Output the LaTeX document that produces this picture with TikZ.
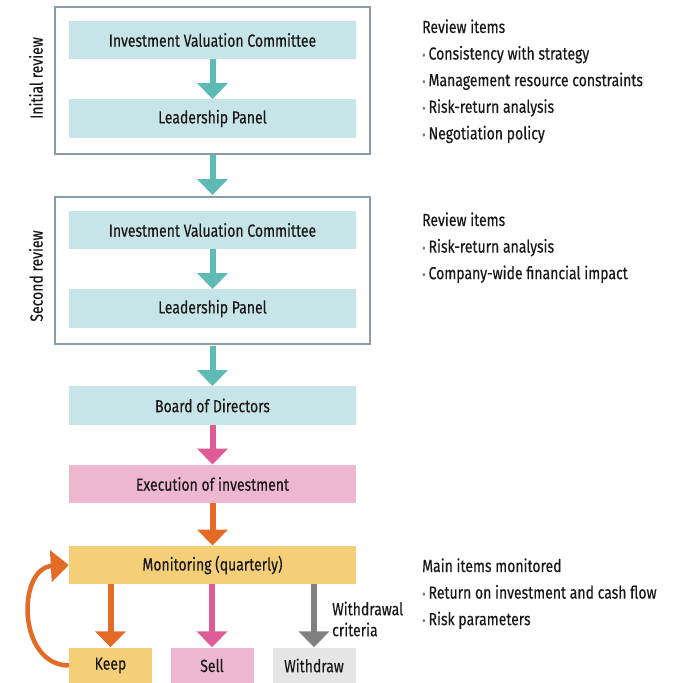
\documentclass[tikz,border=0pt]{standalone}
\usepackage{fontspec}
\setmainfont{Fira Sans}[FakeStretch=0.8, FakeBold=0.3]
\usetikzlibrary{arrows.meta}
\usetikzlibrary{positioning}
\definecolor{mteal}{rgb}{0.37, 0.73, 0.71}
\definecolor{lteal}{rgb}{0.78, 0.90, 0.91}
\definecolor{mframe}{rgb}{0.54, 0.61, 0.66}
\definecolor{mpink}{rgb}{0.87, 0.36, 0.59}
\definecolor{lpink}{rgb}{0.93, 0.72, 0.81}
\definecolor{morange}{rgb}{0.89, 0.42, 0.15}
\definecolor{lyellow}{rgb}{0.96, 0.81, 0.47}
\definecolor{mgrey}{rgb}{0.5, 0.5, 0.5}
\definecolor{lgrey}{rgb}{0.9, 0.9, 0.9}
\definecolor{mtext}{rgb}{0.1, 0.09, 0.09}
\tikzset{box/.style = {minimum width=287pt, minimum height=38.5pt, inner sep=0, text=mtext}}
\tikzset{small/.style = {minimum width=83pt, minimum height=36pt, inner sep=0, text=mtext}}
\tikzset{frm/.style = {draw=mframe, line width=2pt, minimum width=315pt, minimum height=147pt}}
\tikzset{flow/.style = {line width=6pt, -{Triangle[width=30pt, length=16pt]}}}
\tikzset{item/.style = {anchor=base west, inner sep=0, text=mtext}}
\newcommand{\blt}{\textcolor{mgrey}{\scalebox{0.75}{\textbullet}}\hspace{3pt}}

\begin{document}
\begin{tikzpicture}[x=1pt, y=-1pt, font=\fontsize{17.5}{20}\selectfont]
          \useasboundingbox (0, 0) rectangle (683, 683);
          % initial review
          \node [frm] (ini) at (212.5, 80.5) {};
          \node [box, fill=lteal] (ivc1) at (212.5, 40) {Investment Valuation Committee};
          \node [box, fill=lteal] (lp1) at (212.5, 118.5) {Leadership Panel};
          \node [rotate=90, text=mtext] (inil) at (36, 78) {Initial review};
          % second review
          \node [frm] (sec) at (212.5, 270.5) {};
          \node [box, fill=lteal] (ivc2) at (212.5, 230) {Investment Valuation Committee};
          \node [box, fill=lteal] (lp2) at (212.5, 308.5) {Leadership Panel};
          \node [rotate=90, text=mtext] (secl) at (36, 276) {Second review};

          \node [box, fill=lteal] (bod) at (212.5, 405.5) {Board of Directors};
          \node [box, fill=lpink] (exe) at (212.5, 484) {Execution of investment};
          \node [box, fill=lyellow] (mon) at (212.5, 565) {Monitoring (quarterly)};
          \node [small, fill=lyellow] (keep) at (110.5, 665.5) {Keep};
          \node [small, fill=lpink] (sell) at (212, 665.5) {Sell};
          \node [small, fill=lgrey] (wdr) at (314, 665.5) {Withdraw};
          \node [anchor=west, align=left, inner sep=0, text=mtext,
                 font=\fontsize{17.5}{21}\selectfont] (crit) at (332, 619) {Withdrawal\\criteria};

          \draw [flow, mteal] (ivc1) -- (lp1);
          \draw [flow, mteal, shorten >=1pt] (ini) -- (sec);
          \draw [flow, mteal] (ivc2) -- (lp2);
          \draw [flow, mteal, shorten <=1pt] (sec) -- (bod);
          \draw [flow, mpink] (bod) -- (exe);
          \draw [flow, morange] (exe) -- (mon);
          \draw [flow, morange] (mon.south -| keep) -- (keep);
          \draw [flow, mpink] (mon.south -| sell) -- (sell);
          \draw [flow, mgrey] (mon.south -| wdr) -- (wdr);
          \draw [morange, line width=4.5pt, -{Triangle[width=31pt, length=18pt]}]
                (keep.west) .. controls (17, 665) and (17, 568) .. (mon.west);

          % review items
          \node [item] (rev1) at (422, 33) {Review items};
          \foreach \t [count=\i] in {Consistency with strategy, Management resource constraints,
                                     Risk-return analysis, Negotiation policy}
            \node [item] (rev1-\i) at (422, 33 + 26.6*\i) {\blt\t};
          \node [item] (rev2) at (422, 226) {Review items};
          \foreach \t [count=\i] in {Risk-return analysis, Company-wide financial impact}
            \node [item] (rev2-\i) at (422, 226 + 26.6*\i) {\blt\t};
          \node [item] (mim) at (422, 572) {Main items monitored};
          \foreach \t [count=\i] in {Return on investment and cash flow, Risk parameters}
            \node [item] (mim-\i) at (422, 572 + 26.6*\i) {\blt\t};
        \end{tikzpicture}
\end{document}
